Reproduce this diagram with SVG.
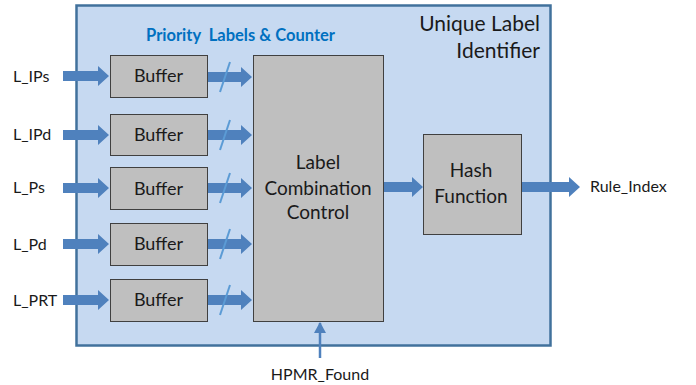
<svg xmlns="http://www.w3.org/2000/svg" width="696" height="385" viewBox="0 0 696 385">
<defs>
<style>
text{font-family:Lato,"Open Sans","Liberation Sans",sans-serif;fill:#1a1a1a}
.box{fill:#BFBFBF;stroke:#404040;stroke-width:1}
.arr{fill:#4F81BD}
.sl{stroke:#5B9BD5;stroke-width:2}
.buf{font-size:18px;text-anchor:middle}
.lbl{font-size:16px}
.mid{font-size:19px;text-anchor:middle}
</style>
<marker id="ah" markerWidth="12" markerHeight="12" refX="10" refY="6" orient="auto" markerUnits="userSpaceOnUse">
<path d="M0,0 L11,6 L0,12 Z" fill="#4F81BD"/>
</marker>
</defs>
<rect width="696" height="385" fill="#fff"/>
<g id="container">
<rect x="76.5" y="5.5" width="474" height="340" fill="#C6D9F1" stroke="#41719C" stroke-width="2.5"/>
<text x="540" y="31" font-size="21" text-anchor="end">Unique Label</text>
<text x="540" y="58" font-size="21" text-anchor="end">Identifier</text>
<text x="240.5" y="41" font-size="16.5" font-weight="bold" text-anchor="middle" style="fill:#0070C0;white-space:pre">Priority  Labels &amp; Counter</text>
</g>
<g id="inputs">
<text class="lbl" x="13" y="82">L_IPs</text>
<text class="lbl" x="13" y="140">L_IPd</text>
<text class="lbl" x="13" y="193">L_Ps</text>
<text class="lbl" x="13" y="250">L_Pd</text>
<text class="lbl" x="13" y="306">L_PRT</text>
</g>
<g id="buffer1"><rect class="box" x="110.5" y="55.5" width="97" height="42"/><text class="buf" x="158.5" y="82">Buffer</text></g>
<g id="buffer2"><rect class="box" x="110.5" y="114.5" width="97" height="41"/><text class="buf" x="158.5" y="141">Buffer</text></g>
<g id="buffer3"><rect class="box" x="110.5" y="167.5" width="97" height="42"/><text class="buf" x="158.5" y="195">Buffer</text></g>
<g id="buffer4"><rect class="box" x="110.5" y="223.5" width="97" height="42"/><text class="buf" x="158.5" y="250">Buffer</text></g>
<g id="buffer5"><rect class="box" x="110.5" y="279.5" width="97" height="42"/><text class="buf" x="158.5" y="306">Buffer</text></g>
<g id="lcc"><rect class="box" x="253.5" y="55.5" width="130" height="266"/>
<text class="mid" x="318" y="169">Label</text>
<text class="mid" x="318" y="195">Combination</text>
<text class="mid" x="318" y="219">Control</text></g>
<g id="hash"><rect class="box" x="423.5" y="134.5" width="98" height="100"/>
<text class="mid" x="471" y="177">Hash</text>
<text class="mid" x="471" y="203">Function</text></g>
<g id="outputs">
<text class="lbl" x="590" y="192">Rule_Index</text>
<text class="lbl" x="320" y="380" text-anchor="middle">HPMR_Found</text>
</g>
<g id="connectors">
<polygon class="arr" points="63,71 98,71 98,66 109,76 98,86 98,81 63,81"/>
<polygon class="arr" points="63,130 98,130 98,125 109,135 98,145 98,140 63,140"/>
<polygon class="arr" points="63,183 98,183 98,178 109,188 98,198 98,193 63,193"/>
<polygon class="arr" points="63,239 98,239 98,234 109,244 98,254 98,249 63,249"/>
<polygon class="arr" points="63,295 98,295 98,290 109,300 98,310 98,305 63,305"/>
<polygon class="arr" points="208,72 241,72 241,67 252,77 241,87 241,82 208,82"/>
<polygon class="arr" points="208,130 241,130 241,125 252,135 241,145 241,140 208,140"/>
<polygon class="arr" points="208,183 241,183 241,178 252,188 241,198 241,193 208,193"/>
<polygon class="arr" points="208,239 241,239 241,234 252,244 241,254 241,249 208,249"/>
<polygon class="arr" points="208,295 241,295 241,290 252,300 241,310 241,305 208,305"/>
<line class="sl" x1="220" y1="92" x2="230" y2="62"/>
<line class="sl" x1="220" y1="150" x2="230" y2="120"/>
<line class="sl" x1="220" y1="203" x2="230" y2="173"/>
<line class="sl" x1="220" y1="259" x2="230" y2="229"/>
<line class="sl" x1="220" y1="315" x2="230" y2="285"/>
<polygon class="arr" points="384,182 412,182 412,177 423,187 412,197 412,192 384,192"/>
<polygon class="arr" points="522,182 569,182 569,177 580,187 569,197 569,192 522,192"/>
<line x1="320" y1="358" x2="320" y2="323" stroke="#4F81BD" stroke-width="2.5" marker-end="url(#ah)"/>
</g>
</svg>
